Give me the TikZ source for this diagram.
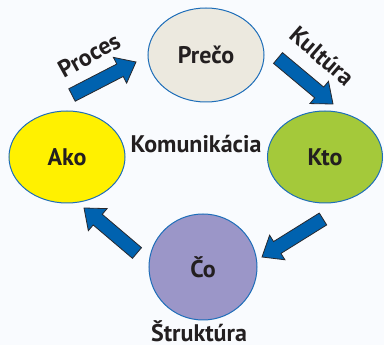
\documentclass[tikz,border=0pt]{standalone}
\usepackage{fontspec}
\setmainfont{PT Sans}
\usetikzlibrary{calc,shapes.geometric}
\definecolor{bgc}{RGB}{249,251,254}
\definecolor{edgeblue}{RGB}{30,110,185}
\definecolor{arrblue}{RGB}{0,98,175}
\definecolor{arrline}{RGB}{40,40,45}
\definecolor{precoc}{RGB}{236,233,223}
\definecolor{akoc}{RGB}{255,241,0}
\definecolor{ktoc}{RGB}{164,201,58}
\definecolor{coc}{RGB}{155,150,200}
\definecolor{txt}{RGB}{35,31,32}
\newcommand\blockarr[2]{%
  \path ($(#2)!18pt!(#1)$) coordinate (hb);
  \draw[barrow] ($(#1)!7pt!90:(#2)$) -- ($(hb)!7pt!90:(#2)$) -- ($(hb)!14.5pt!90:(#2)$) -- (#2)
    -- ($(hb)!14.5pt!-90:(#2)$) -- ($(hb)!7pt!-90:(#2)$) -- ($(#1)!7pt!-90:(#2)$) -- cycle;}
\begin{document}
\begin{tikzpicture}[x=1pt,y=-1pt,
  bubble/.style={ellipse,draw=edgeblue,line width=1pt,inner sep=0pt,font=\fontsize{24}{28}\selectfont\bfseries,text=txt},
  lbl/.style={font=\fontsize{24}{28}\selectfont\bfseries,text=txt,inner sep=0pt},
  barrow/.style={fill=arrblue,draw=arrline,line width=0.8pt,line join=miter}]
\fill[bgc] (0,0) rectangle (384,345);
\useasboundingbox (0,0) rectangle (384,345);
\node[bubble,fill=precoc,minimum width=116pt,minimum height=94pt] (preco) at (206,55) {Prečo};
\node[bubble,fill=akoc,minimum width=116pt,minimum height=92pt] (ako) at (67,157) {Ako};
\node[bubble,fill=ktoc,minimum width=115pt,minimum height=92pt] (kto) at (325,157) {Kto};
\node[bubble,fill=coc,minimum width=108pt,minimum height=106pt] (co) at (203,267) {Čo};
\node[lbl,anchor=base] (kom) at (196,153) {Komunikácia};
\node[lbl,anchor=base] (str) at (199,341.5) {Štruktúra};
\node[lbl,rotate=29] (proc) at (89,55) {Proces};
\node[lbl,rotate=-41] (kult) at (322,56) {Kultúra};
\coordinate (a1t) at (72,95);  \coordinate (a1h) at (136,62);
\coordinate (a2t) at (278,58); \coordinate (a2h) at (333,104);
\coordinate (a3t) at (323,219); \coordinate (a3h) at (262,257);
\coordinate (a4t) at (137,253); \coordinate (a4h) at (84,208);
\blockarr{a1t}{a1h}
\blockarr{a2t}{a2h}
\blockarr{a3t}{a3h}
\blockarr{a4t}{a4h}
\end{tikzpicture}
\end{document}
